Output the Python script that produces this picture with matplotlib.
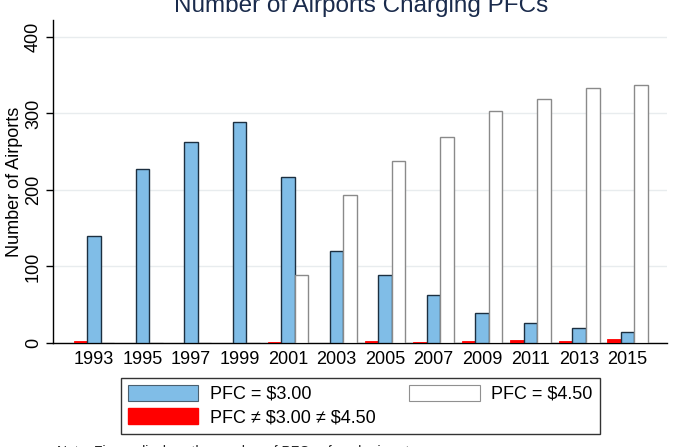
import matplotlib.pyplot as plt
import matplotlib.patches as mpatches
import numpy as np

plt.rcParams['font.family'] = ['Liberation Sans', 'DejaVu Sans']

years = ['1993', '1995', '1997', '1999', '2001', '2003', '2005', '2007',
         '2009', '2011', '2013', '2015']
pfc_300 = [140, 227, 263, 289, 217, 120, 89, 63, 39, 26, 20, 14]
pfc_450 = [0, 0, 0, 0, 89, 193, 238, 269, 303, 319, 333, 337]
pfc_other = [3, 0, 0, 0, 1, 0, 3, 1, 3, 4, 3, 5]

blue = '#80bde7'
red = '#ff0000'

fig = plt.figure(figsize=(6.87, 4.47), dpi=100)
ax = fig.add_axes([0.0771, 0.2327, 0.8937, 0.7223])

x = np.arange(len(years))
w = 0.28
ax.bar(x - w, pfc_other, w, color=red, edgecolor=red, linewidth=0.6, zorder=3)
ax.bar(x, pfc_300, w, color=blue, edgecolor='#1c2f40', linewidth=1.0, zorder=3)
ax.bar(x + w, pfc_450, w, color='white', edgecolor='#8a8a8a', linewidth=1.0, zorder=3)

ax.set_xlim(-0.845, 11.81)
ax.set_ylim(0, 422)
ax.set_xticks(x)
ax.set_xticklabels(years, fontsize=13)
ax.set_yticks([0, 100, 200, 300, 400])
ax.set_yticklabels(['0', '100', '200', '300', '400'], rotation=90, va='center', fontsize=13)
ax.tick_params(axis='x', length=0, pad=6)
ax.tick_params(axis='y', length=5, width=1, pad=3)
ax.grid(axis='y', color='#e8ecee', linewidth=1, zorder=0)
for s in ['top', 'right']:
    ax.spines[s].set_visible(False)
ax.spines['left'].set_linewidth(1)
ax.spines['bottom'].set_linewidth(1)
ax.set_ylabel('Number of Airports', fontsize=13, labelpad=1)

fig.text(0.525, 0.973, 'Number of Airports Charging PFCs', ha='center', va='baseline',
         fontsize=17.5, color='#1a2b4c')

handles = [mpatches.Patch(facecolor=blue, edgecolor='#4a6070', linewidth=0.8),
           mpatches.Patch(facecolor=red, edgecolor=red),
           mpatches.Patch(facecolor='white', edgecolor='#909090', linewidth=0.8)]
labels = ['PFC = \\$3.00', 'PFC \u2260 \\$3.00 \u2260 \\$4.50', 'PFC = \\$4.50']
leg = fig.legend(handles, labels, ncol=2, loc='center',
                 bbox_to_anchor=(0.5245, 0.0925), fontsize=13,
                 handlelength=3.9, handleheight=0.95, handletextpad=0.65,
                 columnspacing=1.85, labelspacing=0.3, borderpad=0.4,
                 fancybox=False, frameon=True)
leg.get_frame().set_edgecolor('black')
leg.get_frame().set_linewidth(1.0)

fig.text(0.083, -0.027, 'Note: Figure displays the number of PFCs of each airport',
         fontsize=10, color='#222222', va='bottom')

fig.savefig('out.png', dpi=100)
